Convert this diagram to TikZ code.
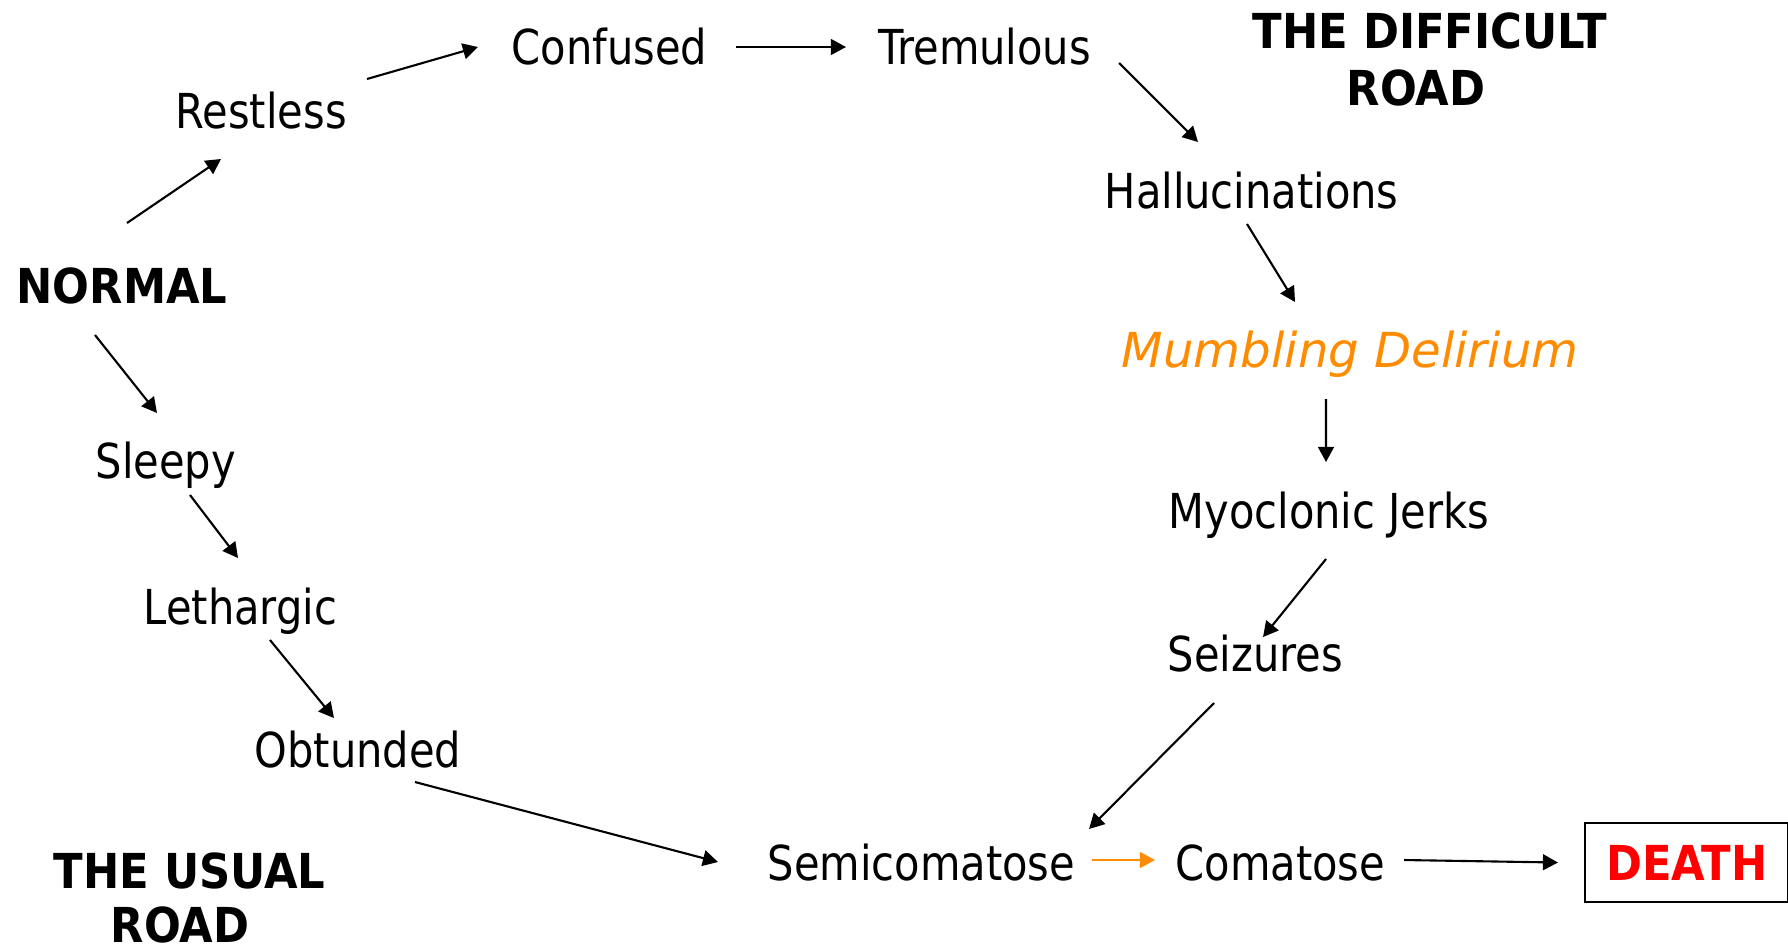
\documentclass[tikz,border=0pt]{standalone}
\usepackage{fontspec}
\usepackage{tikz}
\usetikzlibrary{arrows.meta}
\setmainfont{DejaVu Sans Condensed}[UprightFeatures={FakeStretch=0.96}]
\newfontfamily\widefont{DejaVu Sans}
\definecolor{mumbleorange}{RGB}{255,140,0}
\definecolor{deathred}{RGB}{255,0,0}
\newcommand{\stagefont}{\fontsize{13.7}{16.4}\selectfont}

\tikzset{
  stage/.style={anchor=base west, inner sep=0pt, font=\stagefont},
  roadtitle/.style={stage, font=\stagefont\bfseries},
  arrowline/.style={-{Triangle[length=4.3pt,width=4.5pt]}, line width=0.6pt}
}

\begin{document}
\begin{tikzpicture}
    \useasboundingbox (0,0) rectangle (17.88,-9.49);
    % road titles
    \node [roadtitle] (difficulta) at (12.52,-0.48) {THE DIFFICULT};
    \node [roadtitle] (difficultb) at (13.46,-1.05) {ROAD};
    \node [roadtitle] (usuala) at (0.53,-8.88) {THE USUAL};
    \node [roadtitle] (usualb) at (1.10,-9.42) {ROAD};
    % stages
    \node [roadtitle] (normal) at (0.16,-3.03) {NORMAL};
    \node [stage] (restless) at (1.75,-1.28) {Restless};
    \node [stage] (confused) at (5.11,-0.64) {Confused};
    \node [stage] (tremulous) at (8.78,-0.64) {Tremulous};
    \node [stage] (halluc) at (11.04,-2.08) {Hallucinations};
    \node [stage, font=\stagefont\widefont\itshape, text=mumbleorange] (mumbling) at (11.21,-3.67) {Mumbling Delirium};
    \node [stage] (myoclonic) at (11.68,-5.28) {Myoclonic Jerks};
    \node [stage] (seizures) at (11.67,-6.71) {Seizures};
    \node [stage] (sleepy) at (0.95,-4.78) {Sleepy};
    \node [stage] (lethargic) at (1.43,-6.24) {Lethargic};
    \node [stage] (obtunded) at (2.54,-7.67) {Obtunded};
    \node [stage] (semicoma) at (7.67,-8.80) {Semicomatose};
    \node [stage] (coma) at (11.75,-8.80) {Comatose};
    \node [draw, line width=0.7pt, anchor=west, minimum width=2.03cm, minimum height=0.79cm,
           inner sep=0pt, font=\stagefont\bfseries, text=deathred] (death) at (15.84,-8.625) {DEATH};
    % difficult road
    \draw [arrowline] ([shift={(1.11,0.80)}]normal.base west) -- ([shift={(0.46,-0.31)}]restless.base west);
    \draw [arrowline] ([shift={(1.92,0.49)}]restless.base west) -- ([shift={(-0.33,0.17)}]confused.base west);
    \draw [arrowline] ([shift={(2.25,0.17)}]confused.base west) -- ([shift={(-0.32,0.17)}]tremulous.base west);
    \draw [arrowline] ([shift={(2.41,0.01)}]tremulous.base west) -- ([shift={(0.94,0.66)}]halluc.base west);
    \draw [arrowline] ([shift={(1.43,-0.16)}]halluc.base west) -- ([shift={(1.74,0.65)}]mumbling.base west);
    \draw [arrowline] ([shift={(2.05,-0.32)}]mumbling.base west) -- ([shift={(1.58,0.66)}]myoclonic.base west);
    \draw [arrowline] ([shift={(1.58,-0.31)}]myoclonic.base west) -- ([shift={(0.96,0.34)}]seizures.base west);
    \draw [arrowline] ([shift={(0.47,-0.32)}]seizures.base west) -- ([shift={(3.22,0.51)}]semicoma.base west);
    % usual road
    \draw [arrowline] ([shift={(0.79,-0.32)}]normal.base west) -- ([shift={(0.62,0.65)}]sleepy.base west);
    \draw [arrowline] ([shift={(0.95,-0.17)}]sleepy.base west) -- ([shift={(0.95,0.66)}]lethargic.base west);
    \draw [arrowline] ([shift={(1.27,-0.16)}]lethargic.base west) -- ([shift={(0.80,0.49)}]obtunded.base west);
    \draw [arrowline] ([shift={(1.61,-0.15)}]obtunded.base west) -- ([shift={(-0.49,0.18)}]semicoma.base west);
    % the end
    \draw [arrowline, mumbleorange] ([shift={(3.25,0.20)}]semicoma.base west) -- ([shift={(-0.20,0.20)}]coma.base west);
    \draw [arrowline] ([shift={(2.29,0.20)}]coma.base west) -- ([shift={(-0.26,0)}]death.west);
\end{tikzpicture}
\end{document}
